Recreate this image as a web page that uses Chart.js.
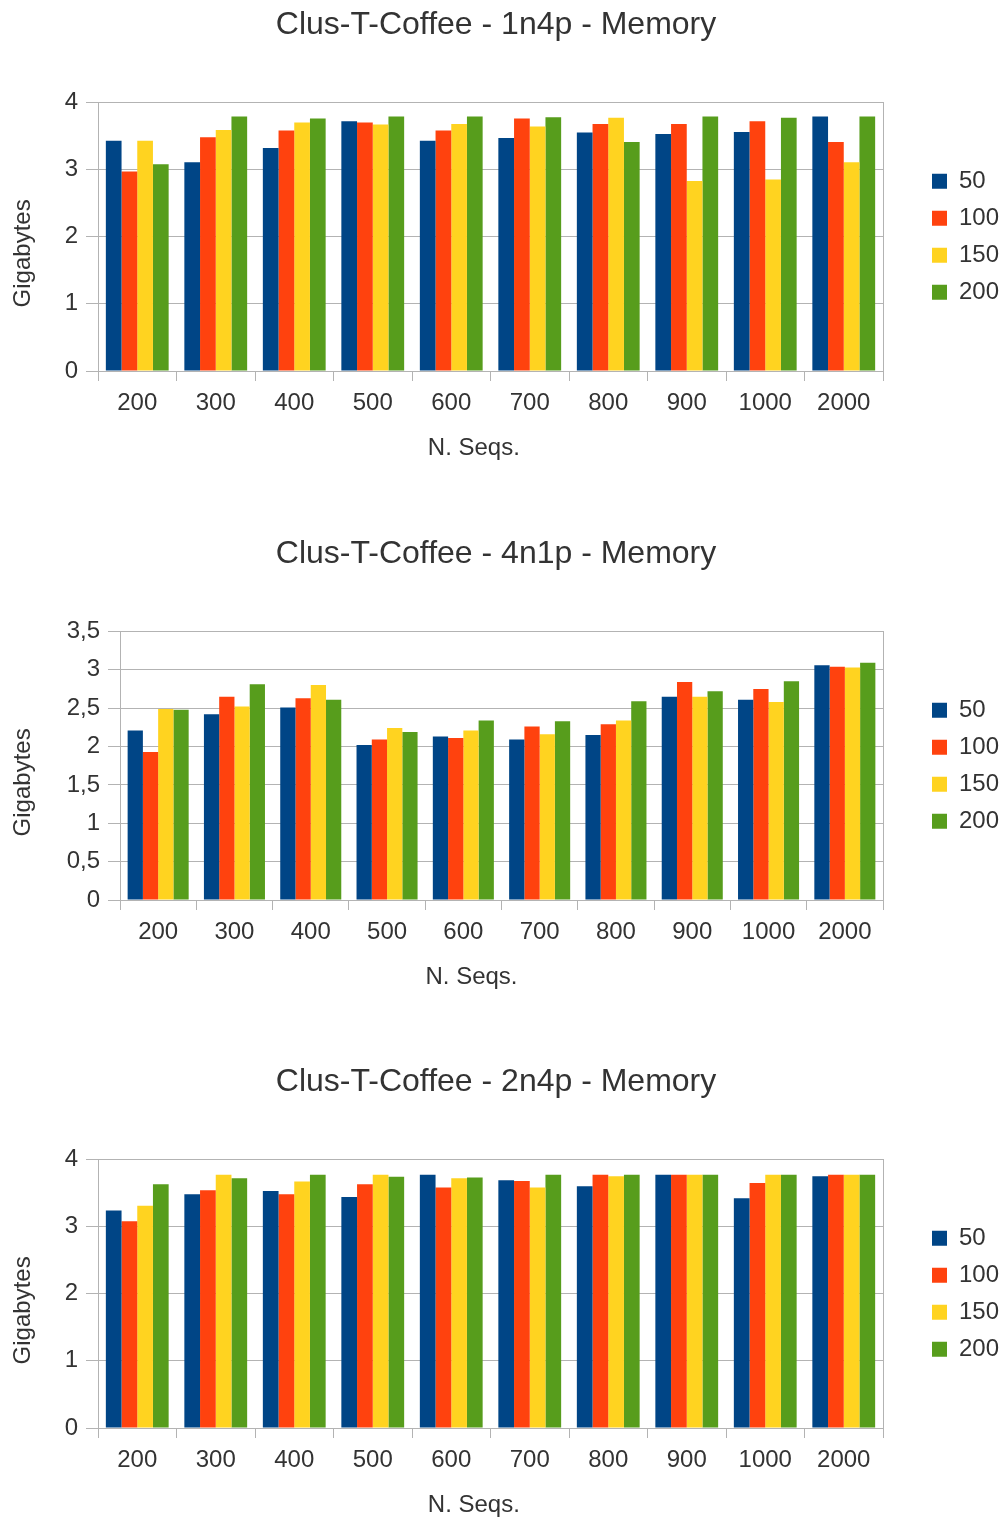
<!DOCTYPE html>
<html>
<head>
<meta charset="utf-8">
<script src="https://cdn.jsdelivr.net/npm/chart.js@4/dist/chart.umd.min.js"></script>
<style>
html,body{margin:0;padding:0;background:#ffffff;}
body{width:1001px;height:1520px;position:relative;overflow:hidden;}
canvas{position:absolute;left:0;}
</style>
</head>
<body>
<canvas id="c1" width="1001" height="463" style="top:0px"></canvas>
<canvas id="c2" width="1001" height="463" style="top:529px"></canvas>
<canvas id="c3" width="1001" height="463" style="top:1057px"></canvas>
<script>
// ---- data ----
const categories = ['200','300','400','500','600','700','800','900','1000','2000'];
const seriesNames = ['50','100','150','200'];

const t1n4p_50  = [3.43, 3.11, 3.32, 3.72, 3.43, 3.47, 3.55, 3.53, 3.56, 3.79];
const t1n4p_100 = [2.97, 3.48, 3.58, 3.70, 3.58, 3.76, 3.68, 3.68, 3.72, 3.41];
const t1n4p_150 = [3.43, 3.59, 3.70, 3.67, 3.68, 3.64, 3.77, 2.83, 2.85, 3.11];
const t1n4p_200 = [3.08, 3.79, 3.76, 3.79, 3.79, 3.78, 3.41, 3.79, 3.77, 3.79];

const t4n1p_50  = [2.21, 2.42, 2.51, 2.02, 2.13, 2.09, 2.15, 2.65, 2.61, 3.06];
const t4n1p_100 = [1.93, 2.65, 2.63, 2.09, 2.11, 2.26, 2.29, 2.84, 2.75, 3.04];
const t4n1p_150 = [2.49, 2.52, 2.80, 2.24, 2.21, 2.16, 2.34, 2.65, 2.58, 3.03];
const t4n1p_200 = [2.48, 2.81, 2.61, 2.19, 2.34, 2.33, 2.59, 2.72, 2.85, 3.09];

const t2n4p_50  = [3.24, 3.48, 3.53, 3.44, 3.77, 3.69, 3.60, 3.77, 3.42, 3.75];
const t2n4p_100 = [3.08, 3.54, 3.48, 3.63, 3.58, 3.68, 3.77, 3.77, 3.65, 3.77];
const t2n4p_150 = [3.31, 3.77, 3.67, 3.77, 3.72, 3.58, 3.75, 3.77, 3.77, 3.77];
const t2n4p_200 = [3.63, 3.72, 3.77, 3.74, 3.73, 3.77, 3.77, 3.77, 3.77, 3.77];

const yTicksInt = ['0','1','2','3','4'];
const yTicksHalf = ['0','0,5','1','1,5','2','2,5','3','3,5'];

const titles = ['Clus-T-Coffee - 1n4p - Memory','Clus-T-Coffee - 4n1p - Memory','Clus-T-Coffee - 2n4p - Memory'];
const xTitle = 'N. Seqs.';
const yTitle = 'Gigabytes';

// ---- styling ----
const colors = ['#004586','#ff420e','#ffd320','#579d1c'];
const gridColor = '#b3b3b3';
const textColor = '#333333';
Chart.defaults.font.family = "'Liberation Sans', Arial, sans-serif";
Chart.defaults.color = textColor;

function makeChart(id, title, series, yMax, yStep, yLabels, yAxisWidth, xTitlePad) {
  const ctx = document.getElementById(id).getContext('2d');
  return new Chart(ctx, {
    type: 'bar',
    data: {
      labels: categories,
      datasets: series.map((vals, i) => ({
        label: seriesNames[i],
        data: vals,
        backgroundColor: colors[i],
        borderWidth: 0,
        categoryPercentage: 0.8,
        barPercentage: 1.0
      }))
    },
    options: {
      responsive: false,
      devicePixelRatio: 1,
      animation: false,
      layout: { padding: { left: 0, right: 0, top: 0, bottom: 0 } },
      plugins: {
        title: {
          display: true,
          text: title + ' ',
          color: textColor,
          font: { size: 32, weight: 'normal' },
          padding: { top: 6, bottom: 58 }
        },
        legend: {
          display: true,
          position: 'right',
          align: 'center',
          fullSize: false,
          maxWidth: 82,
          labels: {
            boxWidth: 15,
            boxHeight: 15,
            padding: 13,
            color: textColor,
            font: { size: 24 }
          }
        },
        tooltip: { enabled: false }
      },
      scales: {
        x: {
          grid: { drawOnChartArea: false, drawTicks: true, tickLength: 10, color: gridColor, offset: true },
          border: { display: true, color: gridColor },
          ticks: { autoSkip: false, maxRotation: 0, padding: 8, font: { size: 24 }, color: textColor },
          title: { display: true, text: xTitle + xTitlePad, color: textColor, font: { size: 24 }, padding: { top: 0, bottom: 0 } },
          afterFit(s) { s.height = 92; }
        },
        y: {
          min: 0,
          max: yMax,
          grid: { color: gridColor, tickLength: 12, drawTicks: true },
          border: { display: true, color: gridColor },
          ticks: {
            stepSize: yStep,
            padding: 8,
            font: { size: 24 },
            color: textColor,
            callback: (v, i) => yLabels[i]
          },
          title: { display: true, text: yTitle + '     ', color: textColor, font: { size: 24 }, padding: { top: 9, bottom: 0 } },
          afterFit(s) { s.width = yAxisWidth; }
        },
        y2: {
          position: 'right',
          display: true,
          grid: { display: false, drawTicks: false },
          ticks: { display: false },
          border: { display: true, color: gridColor },
          afterFit(s) { s.width = 36; }
        }
      }
    }
  });
}

makeChart('c1', titles[0], [t1n4p_50, t1n4p_100, t1n4p_150, t1n4p_200], 4, 1, yTicksInt, 98, '     ');
makeChart('c2', titles[1], [t4n1p_50, t4n1p_100, t4n1p_150, t4n1p_200], 3.5, 0.5, yTicksHalf, 120, '         ');
makeChart('c3', titles[2], [t2n4p_50, t2n4p_100, t2n4p_150, t2n4p_200], 4, 1, yTicksInt, 98, '     ');
</script>
</body>
</html>
